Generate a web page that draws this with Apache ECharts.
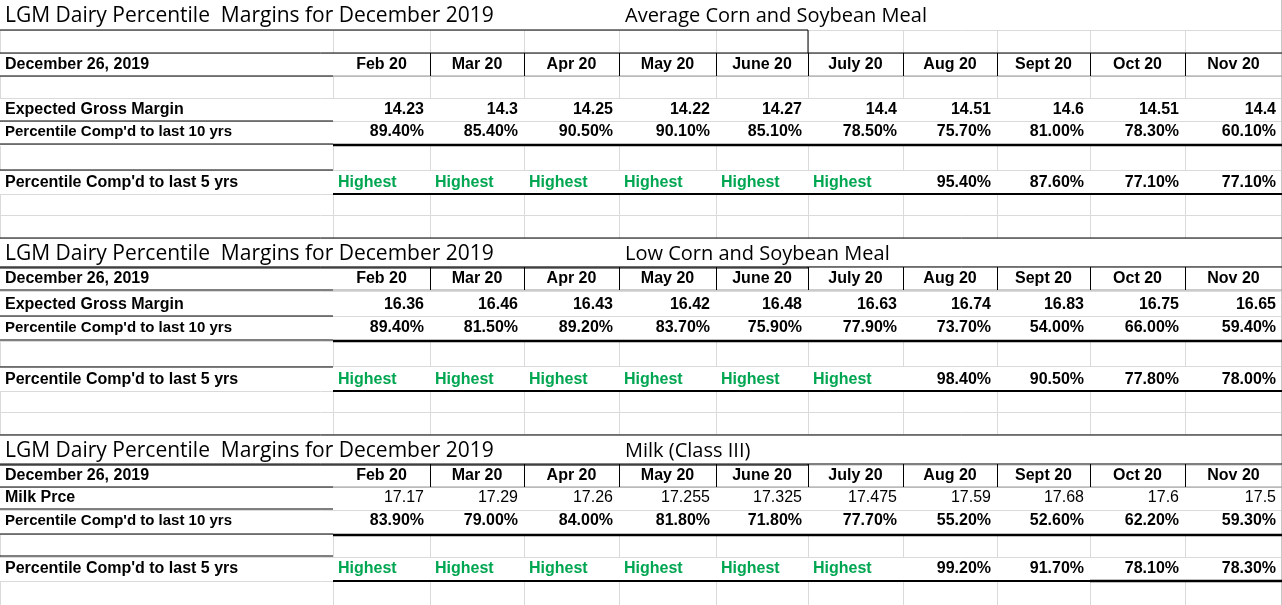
<!DOCTYPE html>
<html>
<head>
<meta charset="utf-8">
<script src="https://cdn.jsdelivr.net/npm/echarts@6/dist/echarts.min.js"></script>
<style>html,body{margin:0;padding:0;background:#fff}#main{width:1282px;height:605px}</style>
</head>
<body>
<div id="main"></div>
<script>
// table data
var months = ['Feb 20', 'Mar 20', 'Apr 20', 'May 20', 'June 20', 'July 20', 'Aug 20', 'Sept 20', 'Oct 20', 'Nov 20'];
var title = 'LGM Dairy Percentile  Margins for December 2019';
var dateLabel = 'December 26, 2019';
var blockNames = ['Average Corn and Soybean Meal', 'Low Corn and Soybean Meal', 'Milk (Class III)'];
var firstRowLabels = ['Expected Gross Margin', 'Expected Gross Margin', 'Milk Prce'];
var avgMargin = ['14.23', '14.3', '14.25', '14.22', '14.27', '14.4', '14.51', '14.6', '14.51', '14.4'];
var avgPct10 = ['89.40%', '85.40%', '90.50%', '90.10%', '85.10%', '78.50%', '75.70%', '81.00%', '78.30%', '60.10%'];
var avgPct5 = ['Highest', 'Highest', 'Highest', 'Highest', 'Highest', 'Highest', '95.40%', '87.60%', '77.10%', '77.10%'];
var lowMargin = ['16.36', '16.46', '16.43', '16.42', '16.48', '16.63', '16.74', '16.83', '16.75', '16.65'];
var lowPct10 = ['89.40%', '81.50%', '89.20%', '83.70%', '75.90%', '77.90%', '73.70%', '54.00%', '66.00%', '59.40%'];
var lowPct5 = ['Highest', 'Highest', 'Highest', 'Highest', 'Highest', 'Highest', '98.40%', '90.50%', '77.80%', '78.00%'];
var milkPrice = ['17.17', '17.29', '17.26', '17.255', '17.325', '17.475', '17.59', '17.68', '17.6', '17.5'];
var milkPct10 = ['83.90%', '79.00%', '84.00%', '81.80%', '71.80%', '77.70%', '55.20%', '52.60%', '62.20%', '59.30%'];
var milkPct5 = ['Highest', 'Highest', 'Highest', 'Highest', 'Highest', 'Highest', '99.20%', '91.70%', '78.10%', '78.30%'];

var colEdges = [0, 333, 430, 524, 619, 716, 808, 903, 997, 1090, 1185, 1282];
var rowEdges = [30, 53, 76, 98, 121, 144, 170, 194, 215, 238, 266, 291, 316, 341, 366, 391, 412, 434, 465, 487, 510, 534, 557, 581, 605];
// blank spreadsheet rows where light vertical lines show
var blankRows = [[30, 53], [76, 98], [146, 170], [194, 238], [342, 366], [391, 434], [535, 557], [581, 605]];
var blocks = [
  {t: 16, d: 65, r1: 110, p10: 132, thick: 145, p5: 183, p5line: 194, m: avgMargin, a: avgPct10, b: avgPct5, bold: true},
  {t: 254, d: 279, r1: 305, p10: 328, thick: 341, p5: 380, p5line: 391, m: lowMargin, a: lowPct10, b: lowPct5, bold: true},
  {t: 451, d: 476, r1: 498, p10: 521, thick: 535, p5: 569, p5line: 581, m: milkPrice, a: milkPct10, b: milkPct5, bold: false}
];

var font = '"Liberation Sans", Arial, sans-serif';
var els = [];
function line(x1, y1, x2, y2, w, c) {
  els.push({type: 'line', shape: {x1: x1, y1: y1, x2: x2, y2: y2}, style: {stroke: c, lineWidth: w}, silent: true});
}
function text(x, y, s, align, opt) {
  opt = opt || {};
  els.push({type: 'text', x: x, y: y, style: {
    text: s, align: align, verticalAlign: 'middle',
    font: (opt.bold === false ? '' : 'bold ') + (opt.size || 16) + 'px ' + (opt.font || font),
    fill: opt.color || '#000'
  }, silent: true});
}

// light spreadsheet grid
rowEdges.forEach(function (y) { line(0, y + 0.5, 1282, y + 0.5, 1, '#dadada'); });
blankRows.forEach(function (r) {
  colEdges.forEach(function (x) { line(x + 0.5, r[0], x + 0.5, r[1], 1, '#dadada'); });
});
line(1281.5, 0, 1281.5, 605, 1, '#c8c8c8');

var titleFont = '"Liberation Sans Narrow", "Open Sans", "Liberation Sans", sans-serif';
blocks.forEach(function (b, i) {
  var top = b.t - 16, dTop = b.d - 12, dBot = b.d + 11;
  text(5, b.t, title, 'left', {size: 21, bold: false, font: titleFont});
  text(625, b.t, blockNames[i], 'left', {size: 20, bold: false, font: titleFont});
  if (i > 0) line(0, top, 1282, top, 1, '#000');
  line(0, b.t + 14, 808, b.t + 14, 1, '#000');
  line(808, b.t + 14, 808, dTop, 1, '#000');
  // date row
  line(0, dTop, 1282, dTop, 1, '#000');
  line(0, dBot, 333, dBot, 1, '#000');
  line(333, dBot, 1282, dBot, 1, '#999');
  colEdges.slice(2, 11).forEach(function (x) { line(x + 0.5, dTop, x + 0.5, dBot, 1, '#000'); });
  text(5, b.d, dateLabel, 'left');
  months.forEach(function (m, j) { text((colEdges[j + 1] + colEdges[j + 2]) / 2, b.d, m, 'center'); });
  // rows
  text(5, b.r1, firstRowLabels[i], 'left');
  line(0, b.r1 + 11, 333, b.r1 + 11, 1, '#000');
  text(5, b.p10, "Percentile Comp'd to last 10 yrs", 'left', {size: 15});
  line(0, b.thick - 1, 333, b.thick - 1, 1, '#000');
  line(333, b.thick, 1282, b.thick, 2.5, '#000');
  text(5, b.p5, "Percentile Comp'd to last 5 yrs", 'left');
  line(0, b.p5 - 13, 333, b.p5 - 13, 1, '#000');
  line(333, b.p5line, 1282, b.p5line, 2, '#000');
  if (i === 2) line(1090, b.p5line, 1282, b.p5line, 2.5, '#000');
  months.forEach(function (m, j) {
    var r = colEdges[j + 2] - 6;
    text(r, b.r1, b.m[j], 'right', {bold: b.bold});
    text(r, b.p10, b.a[j], 'right');
    if (b.b[j] === 'Highest') text(colEdges[j + 1] + 5, b.p5, b.b[j], 'left', {color: '#00a651'});
    else text(r, b.p5, b.b[j], 'right');
  });
});

var chart = echarts.init(document.getElementById('main'));
chart.setOption({animation: false, graphic: {elements: els}});
</script>
</body>
</html>
